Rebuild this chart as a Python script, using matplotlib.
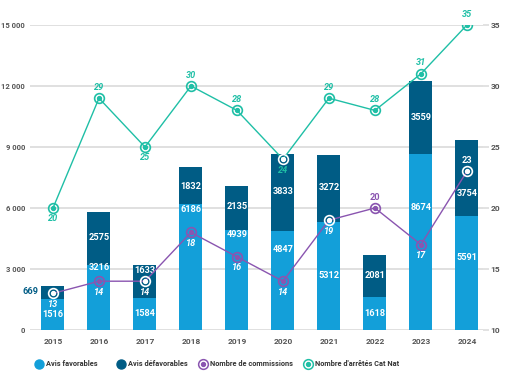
import matplotlib
matplotlib.use("Agg")
import matplotlib.pyplot as plt
import numpy as np
from matplotlib.ticker import FuncFormatter

plt.rcParams['font.family'] = ['Roboto', 'DejaVu Sans']

years = ['2015', '2016', '2017', '2018', '2019', '2020', '2021', '2022', '2023', '2024']
avis_fav = [1516, 3216, 1584, 6186, 4939, 4847, 5312, 1618, 8674, 5591]
avis_defav = [669, 2575, 1633, 1832, 2135, 3833, 3272, 2081, 3559, 3754]
commissions = [13, 14, 14, 18, 16, 14, 19, 20, 17, 23]
cat_nat = [20, 29, 25, 30, 28, 24, 29, 28, 31, 35]

c_fav = '#139fd9'
c_defav = '#005c85'
c_com = '#8a55b0'
c_cat = '#1fbfa6'
c_txt = '#555555'
c_grid = '#dddddd'

W, H = 507, 377
fig = plt.figure(figsize=(W / 100, H / 100), dpi=100)
ax = fig.add_axes([30 / W, 47 / H, 453 / W, 305 / H])
ax2 = ax.twinx()

x = np.arange(len(years))
fav = np.array(avis_fav)
defav = np.array(avis_defav)
ax.bar(x, fav, width=0.5, color=c_fav, zorder=2)
ax.bar(x, defav, width=0.5, bottom=fav, color=c_defav, zorder=2)

ax.set_xlim(-0.5, 9.35)
ax.set_ylim(0, 15000)
ax2.set_ylim(10, 35)
ax.set_yticks([0, 3000, 6000, 9000, 12000, 15000])
ax.yaxis.set_major_formatter(FuncFormatter(lambda v, p: '{:,.0f}'.format(v).replace(',', ' ')))
ax2.set_yticks([10, 15, 20, 25, 30, 35])
ax.set_xticks(x)
ax.set_xticklabels(years)
ax.grid(axis='y', color=c_grid, lw=1.3, zorder=0)
ax.set_axisbelow(True)
for a in (ax, ax2):
    for s in a.spines.values():
        s.set_visible(False)
ax.tick_params(axis='y', length=0, pad=3.5, labelsize=5.5, labelcolor=c_txt)
ax.tick_params(axis='x', length=0, pad=6, labelsize=6, labelcolor=c_txt)
ax2.tick_params(axis='y', length=4, width=1.2, color=c_grid, pad=1.5, labelsize=6, labelcolor=c_txt)
for lab in ax.get_yticklabels() + ax.get_xticklabels() + ax2.get_yticklabels():
    lab.set_fontweight('bold')

# label heights chosen to avoid the lines (left axis units)
fav_lab_y = [740, 3050, 790, 5950, 4720, 3980, 2660, 790, 6000, 3590]
defav_lab_y = [1870, 4525, 2950, 7080, 6050, 6790, 7030, 2660, 10475, 6690]
fs = 6.6
for i in range(len(years)):
    ax.text(x[i], fav_lab_y[i], str(avis_fav[i]), ha='center', va='center',
            color='white', fontsize=fs, fontweight='bold', zorder=5)
    if i == 0:
        ax.text(x[i] - 0.31, defav_lab_y[i], str(avis_defav[i]), ha='right', va='center',
                color=c_defav, fontsize=fs, fontweight='bold', zorder=5)
    else:
        ax.text(x[i], defav_lab_y[i], str(avis_defav[i]), ha='center', va='center',
                color='white', fontsize=fs, fontweight='bold', zorder=5)

# lines on right axis
ax2.plot(x, commissions, color=c_com, lw=1, zorder=3)
ax2.plot(x, cat_nat, color=c_cat, lw=1, zorder=3)

com_white = [0, 2, 6, 9]
cat_white = [5]
for i in range(len(years)):
    mc = 'white' if i in com_white else c_com
    ax2.plot(x[i], commissions[i], 'o', ms=7, mfc='none', mec=mc, mew=1.2, zorder=4)
    ax2.plot(x[i], commissions[i], 'o', ms=2.8, color=mc, zorder=4)
    mc = 'white' if i in cat_white else c_cat
    ax2.plot(x[i], cat_nat[i], 'o', ms=7, mfc='none', mec=mc, mew=1.2, zorder=4)
    ax2.plot(x[i], cat_nat[i], 'o', ms=2.8, color=mc, zorder=4)

off = 0.9
for i in range(len(years)):
    if i == 7:
        ax2.text(x[i], commissions[i] + off, str(commissions[i]), ha='center', va='center',
                 color=c_com, fontsize=fs, fontweight='bold', zorder=5)
    elif i == 9:
        ax2.text(x[i], commissions[i] + off, str(commissions[i]), ha='center', va='center',
                 color='white', fontsize=fs, fontweight='bold', zorder=5)
    else:
        ax2.text(x[i], commissions[i] - off, str(commissions[i]), ha='center', va='center',
                 color='white', fontsize=fs, fontweight='bold', style='italic', zorder=5)
    sign = -1 if i in (0, 2, 5) else 1
    ax2.text(x[i], cat_nat[i] + sign * off, str(cat_nat[i]), ha='center', va='center',
             color=c_cat, fontsize=fs, fontweight='bold', style='italic', zorder=5,
             clip_on=False)

# legend, placed item by item
ly = 1 - 364 / H
items = [(39, 'Avis favorables', c_fav, 'dot'),
         (121, 'Avis défavorables', c_defav, 'dot'),
         (203, 'Nombre de commissions', c_com, 'ring'),
         (308, "Nombre d'arrêtés Cat Nat", c_cat, 'ring')]
for px, txt, col, kind in items:
    if kind == 'dot':
        fig.lines.append(plt.Line2D([px / W], [ly], ls='none', marker='o', ms=6.5, color=col,
                                    transform=fig.transFigure))
    else:
        fig.lines.append(plt.Line2D([px / W], [ly], ls='none', marker='o', ms=7, mfc='none',
                                    mec=col, mew=1.1, transform=fig.transFigure))
        fig.lines.append(plt.Line2D([px / W], [ly], ls='none', marker='o', ms=2.8, color=col,
                                    transform=fig.transFigure))
    fig.text((px + 7) / W, ly, txt, ha='left', va='center', fontsize=5.3,
             fontweight='bold', color='#333333')

fig.savefig('out.png', dpi=100)
